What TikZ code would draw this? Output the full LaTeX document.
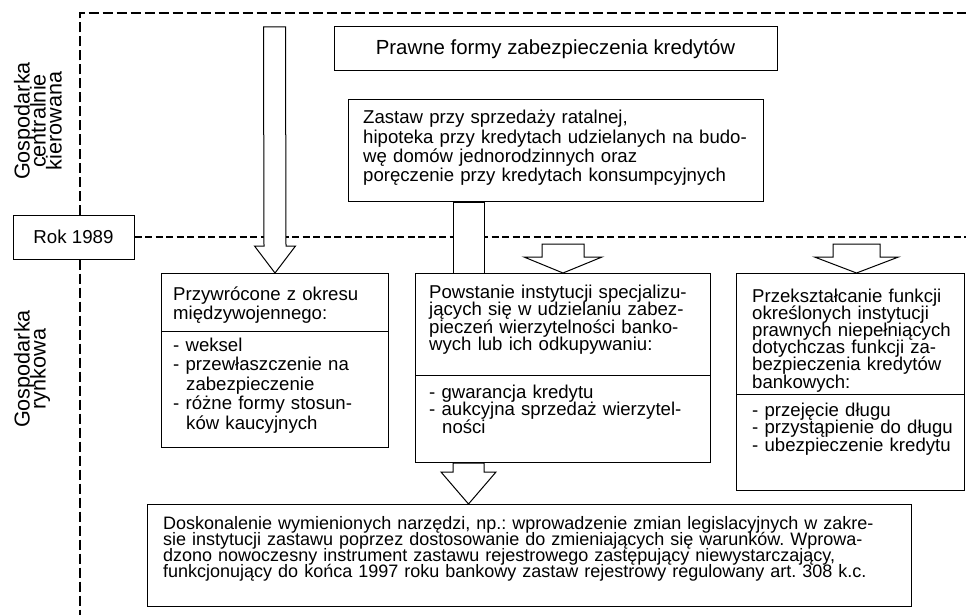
\documentclass[tikz,border=0pt]{standalone}
\usepackage{fontspec}
\setmainfont{Liberation Sans}
\usetikzlibrary{calc}
\lineskiplimit=-\maxdimen
\normallineskiplimit=-\maxdimen
\frenchspacing
\newcommand{\boxfont}[2]{\fontsize{#1}{#2}\selectfont}
\newcommand{\blkarrow}[5]{\filldraw[arrowbody] ($(#1)+(-#3,0)$) -- ($(#2)+(-#3,#5)$) -- ($(#2)+(-#4,#5)$) -- (#2) -- ($(#2)+(#4,#5)$) -- ($(#2)+(#3,#5)$) -- ($(#1)+(#3,0)$) -- cycle;}
\tikzset{
  frame/.style={draw, line width=1pt, fill=white, inner sep=0pt},
  arrowbody/.style={draw, fill=white, line width=1pt},
  txt/.style={anchor=base west, inner sep=0pt, align=left, text width=#1},
  era/.style={dash pattern=on 10pt off 4pt, line width=2pt},
  yearline/.style={dash pattern=on 7pt off 3.5pt, line width=2pt}
}

\begin{document}
\begin{tikzpicture}[x=1pt,y=1pt]
\useasboundingbox (0,0) rectangle (966,-615);
\node[frame, minimum width=121, minimum height=44, font=\boxfont{18.7}{22}] (rok) at (73.5,-237) {Rok 1989};
\coordinate (corner) at (80,-13);
\draw[era] (rok.north -| corner) -- (corner) -- (966,-13);
\draw[era] (rok.south -| corner) -- (80,-615);
\draw[yearline] (rok.east) -- (966,-237);
\node[rotate=90, align=center, font=\boxfont{21.6}{16}] (cpe) at (38,-121) {Gospodarka\\centralnie\\kierowana};
\node[rotate=90, align=center, font=\boxfont{21.6}{16}] (rynek) at (32,-369) {Gospodarka\\rynkowa};
% boxes
\node[frame, minimum width=443, minimum height=44, font=\boxfont{20.4}{24}] (title) at (555.5,-49) {Prawne formy zabezpieczenia kredytów};
\node[frame, anchor=north west, minimum width=415, minimum height=102] (zastaw) at (348,-99) {};
\node[frame, anchor=north west, minimum width=227, minimum height=174] (przywr) at (161,-273) {};
\node[frame, anchor=north west, minimum width=295, minimum height=189] (powst) at (415,-273) {};
\node[frame, anchor=north west, minimum width=228, minimum height=217] (przeksz) at (736,-273) {};
\node[frame, anchor=north west, minimum width=764, minimum height=102] (dosk) at (147,-504) {};
\draw[line width=1pt] ($(przywr.north west)+(0,-58)$) -- ($(przywr.north east)+(0,-58)$);
\draw[line width=1pt] ($(powst.north west)+(0,-102)$) -- ($(powst.north east)+(0,-102)$);
\draw[line width=1pt] ($(przeksz.north west)+(0,-121)$) -- ($(przeksz.north east)+(0,-121)$);
% arrows
\coordinate (stemx) at (468.5,0);
\coordinate (a1top) at (274.5,-27);
\coordinate (a2top) at ($(powst.north)+(0,29)$);
\coordinate (a3tip) at ($(przeksz.north)+(6,0)$);
\coordinate (a3top) at ($(a3tip)+(0,29)$);
\filldraw[arrowbody] ($(zastaw.south -| stemx)+(-15.5,0)$) rectangle ($(powst.north -| stemx)+(15.5,0)$);
\blkarrow{a1top}{przywr.north}{11}{20.5}{27}
\blkarrow{a2top}{powst.north}{21}{39}{16}
\blkarrow{a3top}{a3tip}{23.5}{42}{16}
\coordinate (a4top) at (powst.south -| stemx);
\coordinate (a4tip) at (dosk.north -| stemx);
\blkarrow{a4top}{a4tip}{15.5}{27.5}{32}
% texts
\node[txt=400, font=\boxfont{18.6}{19.3}] (zastawtxt) at (363,-124) {Zastaw przy sprzedaży ratalnej,\\hipoteka przy kredytach udzielanych na budo-\\wę domów jednorodzinnych oraz\\poręczenie przy kredytach konsumpcyjnych};
\node[txt=210, font=\boxfont{18.6}{19}] (przywrhead) at (173,-300) {Przywrócone z okresu\\międzywojennego:};
\node[txt=210, font=\boxfont{18.6}{19.5}] (przywrlist) at (173,-351) {- weksel\\- przewłaszczenie na\\\hspace*{13pt}zabezpieczenie\\- różne formy stosun-\\\hspace*{13pt}ków kaucyjnych};
\node[txt=280, font=\boxfont{18.6}{17.5}] (powsthead) at (429,-298) {Powstanie instytucji specjalizu-\\jących się w udzielaniu zabez-\\pieczeń wierzytelności banko-\\wych lub ich odkupywaniu:};
\node[txt=280, font=\boxfont{18.6}{17.5}] (powstlist) at (429,-398) {- gwarancja kredytu\\- aukcyjna sprzedaż wierzytel-\\\hspace*{13pt}ności};
\node[txt=210, font=\boxfont{18.6}{17.2}] (przekszhead) at (752,-302) {Przekształcanie funkcji\\określonych instytucji\\prawnych niepełniących\\dotychczas funkcji za-\\bezpieczenia kredytów\\bankowych:};
\node[txt=210, font=\boxfont{18.6}{17.5}] (przekszlist) at (752,-416) {- przejęcie długu\\- przystąpienie do długu\\- ubezpieczenie kredytu};
\node[txt=740, font=\boxfont{18}{16.3}] (dosktxt) at (163,-529) {Doskonalenie wymienionych narzędzi, np.: wprowadzenie zmian legislacyjnych w zakre-\\sie instytucji zastawu poprzez dostosowanie do zmieniających się warunków. Wprowa-\\dzono nowoczesny instrument zastawu rejestrowego zastępujący niewystarczający,\\funkcjonujący do końca 1997 roku bankowy zastaw rejestrowy regulowany art. 308 k.c.};
\end{tikzpicture}
\end{document}
